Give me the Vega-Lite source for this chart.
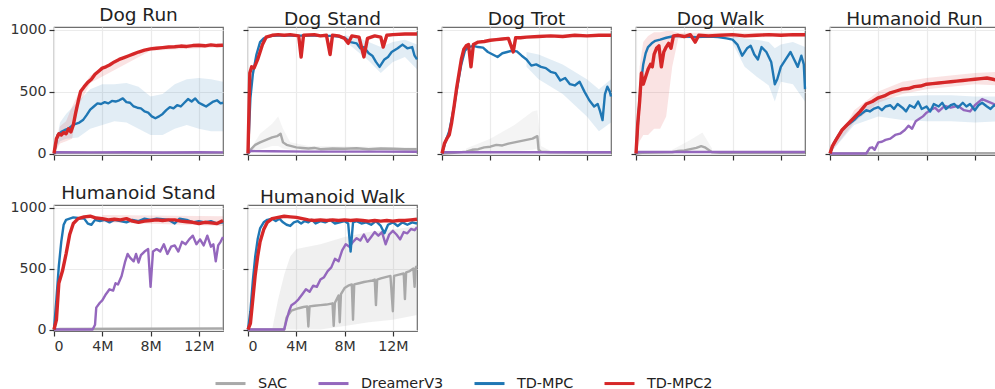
{
"$schema": "https://vega.github.io/schema/vega-lite/v6.json",
"padding": {"left": 9, "top": 5, "right": 0, "bottom": 0},
"background": "white",
"columns": 5,
"spacing": {"row": 50, "column": 25},
"bounds": "flush",
"config": {
  "font": "DejaVu Sans",
  "view": {"stroke": "#6e6e6e", "strokeWidth": 1.2},
  "axis": {"grid": true, "gridColor": "#ebebeb", "gridWidth": 1.2, "domain": false, "tickColor": "#333", "tickSize": 5, "tickWidth": 1.2, "labelFontSize": 14.2, "labelColor": "#333", "labelPadding": 3, "labelFont": "DejaVu Sans"},
  "title": {"fontSize": 18.5, "fontWeight": "normal", "color": "#222", "offset": -1.4, "anchor": "middle", "font": "DejaVu Sans"},
  "line": {"strokeJoin": "round", "clip": true},
  "area": {"clip": true, "opacity": 0.13}
},
"datasets": {
"L": [
{"t":"DR","m":"SAC","x":0,"y":0},{"t":"DR","m":"SAC","x":0.3,"y":8},{"t":"DR","m":"SAC","x":2,"y":6},{"t":"DR","m":"SAC","x":5,"y":5},{"t":"DR","m":"SAC","x":8,"y":6},{"t":"DR","m":"SAC","x":11,"y":5},{"t":"DR","m":"SAC","x":14,"y":5},
{"t":"DR","m":"DreamerV3","x":0,"y":0},{"t":"DR","m":"DreamerV3","x":0.2,"y":10},{"t":"DR","m":"DreamerV3","x":3,"y":9},{"t":"DR","m":"DreamerV3","x":6,"y":10},{"t":"DR","m":"DreamerV3","x":9,"y":8},{"t":"DR","m":"DreamerV3","x":12,"y":10},{"t":"DR","m":"DreamerV3","x":14,"y":9},
{"t":"DR","m":"TD-MPC","x":0,"y":0},{"t":"DR","m":"TD-MPC","x":0.3,"y":150},{"t":"DR","m":"TD-MPC","x":0.6,"y":175},{"t":"DR","m":"TD-MPC","x":0.9,"y":190},{"t":"DR","m":"TD-MPC","x":1.2,"y":200},{"t":"DR","m":"TD-MPC","x":1.5,"y":225},{"t":"DR","m":"TD-MPC","x":1.8,"y":240},{"t":"DR","m":"TD-MPC","x":2.1,"y":250},{"t":"DR","m":"TD-MPC","x":2.4,"y":270},{"t":"DR","m":"TD-MPC","x":2.7,"y":310},{"t":"DR","m":"TD-MPC","x":3.0,"y":355},{"t":"DR","m":"TD-MPC","x":3.3,"y":380},{"t":"DR","m":"TD-MPC","x":3.6,"y":405},{"t":"DR","m":"TD-MPC","x":3.9,"y":400},{"t":"DR","m":"TD-MPC","x":4.2,"y":415},{"t":"DR","m":"TD-MPC","x":4.5,"y":405},{"t":"DR","m":"TD-MPC","x":4.8,"y":425},{"t":"DR","m":"TD-MPC","x":5.1,"y":420},{"t":"DR","m":"TD-MPC","x":5.4,"y":430},{"t":"DR","m":"TD-MPC","x":5.7,"y":445},{"t":"DR","m":"TD-MPC","x":6.0,"y":415},{"t":"DR","m":"TD-MPC","x":6.3,"y":410},{"t":"DR","m":"TD-MPC","x":6.6,"y":380},{"t":"DR","m":"TD-MPC","x":6.9,"y":370},{"t":"DR","m":"TD-MPC","x":7.2,"y":365},{"t":"DR","m":"TD-MPC","x":7.5,"y":340},{"t":"DR","m":"TD-MPC","x":7.8,"y":330},{"t":"DR","m":"TD-MPC","x":8.1,"y":300},{"t":"DR","m":"TD-MPC","x":8.4,"y":285},{"t":"DR","m":"TD-MPC","x":8.7,"y":300},{"t":"DR","m":"TD-MPC","x":9.0,"y":320},{"t":"DR","m":"TD-MPC","x":9.3,"y":350},{"t":"DR","m":"TD-MPC","x":9.6,"y":375},{"t":"DR","m":"TD-MPC","x":9.9,"y":365},{"t":"DR","m":"TD-MPC","x":10.2,"y":390},{"t":"DR","m":"TD-MPC","x":10.5,"y":380},{"t":"DR","m":"TD-MPC","x":10.8,"y":410},{"t":"DR","m":"TD-MPC","x":11.1,"y":440},{"t":"DR","m":"TD-MPC","x":11.4,"y":420},{"t":"DR","m":"TD-MPC","x":11.7,"y":445},{"t":"DR","m":"TD-MPC","x":12.0,"y":410},{"t":"DR","m":"TD-MPC","x":12.3,"y":395},{"t":"DR","m":"TD-MPC","x":12.6,"y":380},{"t":"DR","m":"TD-MPC","x":12.9,"y":400},{"t":"DR","m":"TD-MPC","x":13.2,"y":420},{"t":"DR","m":"TD-MPC","x":13.5,"y":430},{"t":"DR","m":"TD-MPC","x":13.8,"y":405},{"t":"DR","m":"TD-MPC","x":14,"y":410},
{"t":"DR","m":"TD-MPC2","x":0,"y":0},{"t":"DR","m":"TD-MPC2","x":0.2,"y":120},{"t":"DR","m":"TD-MPC2","x":0.4,"y":160},{"t":"DR","m":"TD-MPC2","x":0.6,"y":150},{"t":"DR","m":"TD-MPC2","x":0.8,"y":170},{"t":"DR","m":"TD-MPC2","x":1.0,"y":160},{"t":"DR","m":"TD-MPC2","x":1.2,"y":200},{"t":"DR","m":"TD-MPC2","x":1.4,"y":175},{"t":"DR","m":"TD-MPC2","x":1.6,"y":230},{"t":"DR","m":"TD-MPC2","x":1.8,"y":330},{"t":"DR","m":"TD-MPC2","x":2.0,"y":420},{"t":"DR","m":"TD-MPC2","x":2.2,"y":500},{"t":"DR","m":"TD-MPC2","x":2.5,"y":540},{"t":"DR","m":"TD-MPC2","x":2.8,"y":575},{"t":"DR","m":"TD-MPC2","x":3.1,"y":600},{"t":"DR","m":"TD-MPC2","x":3.4,"y":640},{"t":"DR","m":"TD-MPC2","x":3.7,"y":665},{"t":"DR","m":"TD-MPC2","x":4.0,"y":690},{"t":"DR","m":"TD-MPC2","x":4.3,"y":700},{"t":"DR","m":"TD-MPC2","x":4.6,"y":715},{"t":"DR","m":"TD-MPC2","x":5.0,"y":740},{"t":"DR","m":"TD-MPC2","x":5.4,"y":760},{"t":"DR","m":"TD-MPC2","x":5.8,"y":775},{"t":"DR","m":"TD-MPC2","x":6.2,"y":790},{"t":"DR","m":"TD-MPC2","x":6.6,"y":805},{"t":"DR","m":"TD-MPC2","x":7.0,"y":820},{"t":"DR","m":"TD-MPC2","x":7.5,"y":835},{"t":"DR","m":"TD-MPC2","x":8.0,"y":845},{"t":"DR","m":"TD-MPC2","x":8.5,"y":850},{"t":"DR","m":"TD-MPC2","x":9.0,"y":855},{"t":"DR","m":"TD-MPC2","x":9.5,"y":860},{"t":"DR","m":"TD-MPC2","x":10.0,"y":862},{"t":"DR","m":"TD-MPC2","x":10.5,"y":868},{"t":"DR","m":"TD-MPC2","x":11.0,"y":865},{"t":"DR","m":"TD-MPC2","x":11.5,"y":872},{"t":"DR","m":"TD-MPC2","x":12.0,"y":875},{"t":"DR","m":"TD-MPC2","x":12.5,"y":870},{"t":"DR","m":"TD-MPC2","x":13.0,"y":878},{"t":"DR","m":"TD-MPC2","x":13.5,"y":872},{"t":"DR","m":"TD-MPC2","x":14,"y":875},

{"t":"DS","m":"SAC","x":0,"y":0},{"t":"DS","m":"SAC","x":0.3,"y":40},{"t":"DS","m":"SAC","x":0.6,"y":70},{"t":"DS","m":"SAC","x":1.0,"y":90},{"t":"DS","m":"SAC","x":1.5,"y":110},{"t":"DS","m":"SAC","x":2.0,"y":130},{"t":"DS","m":"SAC","x":2.4,"y":140},{"t":"DS","m":"SAC","x":2.7,"y":160},{"t":"DS","m":"SAC","x":2.9,"y":90},{"t":"DS","m":"SAC","x":3.2,"y":70},{"t":"DS","m":"SAC","x":3.6,"y":60},{"t":"DS","m":"SAC","x":4,"y":50},{"t":"DS","m":"SAC","x":4.5,"y":45},{"t":"DS","m":"SAC","x":5,"y":40},{"t":"DS","m":"SAC","x":5.5,"y":45},{"t":"DS","m":"SAC","x":6,"y":35},{"t":"DS","m":"SAC","x":7,"y":40},{"t":"DS","m":"SAC","x":8,"y":38},{"t":"DS","m":"SAC","x":9,"y":42},{"t":"DS","m":"SAC","x":10,"y":35},{"t":"DS","m":"SAC","x":11,"y":40},{"t":"DS","m":"SAC","x":12,"y":38},{"t":"DS","m":"SAC","x":13,"y":35},{"t":"DS","m":"SAC","x":14,"y":35},
{"t":"DS","m":"DreamerV3","x":0,"y":0},{"t":"DS","m":"DreamerV3","x":0.2,"y":20},{"t":"DS","m":"DreamerV3","x":2,"y":18},{"t":"DS","m":"DreamerV3","x":5,"y":15},{"t":"DS","m":"DreamerV3","x":8,"y":15},{"t":"DS","m":"DreamerV3","x":11,"y":15},{"t":"DS","m":"DreamerV3","x":14,"y":14},
{"t":"DS","m":"TD-MPC","x":0,"y":0},{"t":"DS","m":"TD-MPC","x":0.2,"y":450},{"t":"DS","m":"TD-MPC","x":0.4,"y":640},{"t":"DS","m":"TD-MPC","x":0.7,"y":800},{"t":"DS","m":"TD-MPC","x":1.0,"y":900},{"t":"DS","m":"TD-MPC","x":1.3,"y":930},{"t":"DS","m":"TD-MPC","x":1.7,"y":945},{"t":"DS","m":"TD-MPC","x":2,"y":950},{"t":"DS","m":"TD-MPC","x":3,"y":955},{"t":"DS","m":"TD-MPC","x":4,"y":950},{"t":"DS","m":"TD-MPC","x":5,"y":955},{"t":"DS","m":"TD-MPC","x":6,"y":950},{"t":"DS","m":"TD-MPC","x":7,"y":950},{"t":"DS","m":"TD-MPC","x":7.5,"y":945},{"t":"DS","m":"TD-MPC","x":8,"y":935},{"t":"DS","m":"TD-MPC","x":8.5,"y":900},{"t":"DS","m":"TD-MPC","x":9,"y":890},{"t":"DS","m":"TD-MPC","x":9.3,"y":850},{"t":"DS","m":"TD-MPC","x":9.6,"y":860},{"t":"DS","m":"TD-MPC","x":10,"y":810},{"t":"DS","m":"TD-MPC","x":10.3,"y":790},{"t":"DS","m":"TD-MPC","x":10.6,"y":740},{"t":"DS","m":"TD-MPC","x":10.9,"y":700},{"t":"DS","m":"TD-MPC","x":11.3,"y":760},{"t":"DS","m":"TD-MPC","x":11.6,"y":780},{"t":"DS","m":"TD-MPC","x":11.9,"y":820},{"t":"DS","m":"TD-MPC","x":12.4,"y":850},{"t":"DS","m":"TD-MPC","x":12.8,"y":880},{"t":"DS","m":"TD-MPC","x":13.2,"y":850},{"t":"DS","m":"TD-MPC","x":13.6,"y":860},{"t":"DS","m":"TD-MPC","x":13.8,"y":790},{"t":"DS","m":"TD-MPC","x":14,"y":760},
{"t":"DS","m":"TD-MPC2","x":0,"y":0},{"t":"DS","m":"TD-MPC2","x":0.15,"y":650},{"t":"DS","m":"TD-MPC2","x":0.3,"y":700},{"t":"DS","m":"TD-MPC2","x":0.5,"y":690},{"t":"DS","m":"TD-MPC2","x":0.8,"y":760},{"t":"DS","m":"TD-MPC2","x":1.0,"y":820},{"t":"DS","m":"TD-MPC2","x":1.2,"y":880},{"t":"DS","m":"TD-MPC2","x":1.5,"y":940},{"t":"DS","m":"TD-MPC2","x":2,"y":955},{"t":"DS","m":"TD-MPC2","x":2.5,"y":960},{"t":"DS","m":"TD-MPC2","x":3,"y":955},{"t":"DS","m":"TD-MPC2","x":3.5,"y":960},{"t":"DS","m":"TD-MPC2","x":4.2,"y":950},{"t":"DS","m":"TD-MPC2","x":4.4,"y":780},{"t":"DS","m":"TD-MPC2","x":4.6,"y":955},{"t":"DS","m":"TD-MPC2","x":5.5,"y":960},{"t":"DS","m":"TD-MPC2","x":6,"y":950},{"t":"DS","m":"TD-MPC2","x":6.5,"y":955},{"t":"DS","m":"TD-MPC2","x":6.8,"y":800},{"t":"DS","m":"TD-MPC2","x":7.0,"y":955},{"t":"DS","m":"TD-MPC2","x":7.5,"y":950},{"t":"DS","m":"TD-MPC2","x":8,"y":930},{"t":"DS","m":"TD-MPC2","x":8.3,"y":890},{"t":"DS","m":"TD-MPC2","x":8.6,"y":950},{"t":"DS","m":"TD-MPC2","x":9.2,"y":940},{"t":"DS","m":"TD-MPC2","x":9.6,"y":780},{"t":"DS","m":"TD-MPC2","x":9.9,"y":930},{"t":"DS","m":"TD-MPC2","x":10.5,"y":950},{"t":"DS","m":"TD-MPC2","x":11,"y":940},{"t":"DS","m":"TD-MPC2","x":11.2,"y":860},{"t":"DS","m":"TD-MPC2","x":11.5,"y":955},{"t":"DS","m":"TD-MPC2","x":12,"y":960},{"t":"DS","m":"TD-MPC2","x":13,"y":965},{"t":"DS","m":"TD-MPC2","x":14,"y":965},

{"t":"DT","m":"SAC","x":0,"y":0},{"t":"DT","m":"SAC","x":1,"y":5},{"t":"DT","m":"SAC","x":2,"y":15},{"t":"DT","m":"SAC","x":2.5,"y":30},{"t":"DT","m":"SAC","x":3,"y":35},{"t":"DT","m":"SAC","x":3.5,"y":50},{"t":"DT","m":"SAC","x":4,"y":55},{"t":"DT","m":"SAC","x":4.5,"y":70},{"t":"DT","m":"SAC","x":5,"y":65},{"t":"DT","m":"SAC","x":5.5,"y":80},{"t":"DT","m":"SAC","x":6,"y":90},{"t":"DT","m":"SAC","x":6.5,"y":100},{"t":"DT","m":"SAC","x":7,"y":110},{"t":"DT","m":"SAC","x":7.5,"y":120},{"t":"DT","m":"SAC","x":7.9,"y":140},{"t":"DT","m":"SAC","x":8.0,"y":30},{"t":"DT","m":"SAC","x":8.2,"y":15},{"t":"DT","m":"SAC","x":9,"y":10},{"t":"DT","m":"SAC","x":11,"y":8},{"t":"DT","m":"SAC","x":14,"y":8},
{"t":"DT","m":"DreamerV3","x":0,"y":0},{"t":"DT","m":"DreamerV3","x":0.2,"y":10},{"t":"DT","m":"DreamerV3","x":7,"y":10},{"t":"DT","m":"DreamerV3","x":14,"y":10},
{"t":"DT","m":"TD-MPC","x":0,"y":0},{"t":"DT","m":"TD-MPC","x":0.3,"y":100},{"t":"DT","m":"TD-MPC","x":0.6,"y":180},{"t":"DT","m":"TD-MPC","x":1.0,"y":380},{"t":"DT","m":"TD-MPC","x":1.3,"y":560},{"t":"DT","m":"TD-MPC","x":1.6,"y":720},{"t":"DT","m":"TD-MPC","x":1.9,"y":830},{"t":"DT","m":"TD-MPC","x":2.2,"y":860},{"t":"DT","m":"TD-MPC","x":2.6,"y":870},{"t":"DT","m":"TD-MPC","x":3.0,"y":860},{"t":"DT","m":"TD-MPC","x":3.4,"y":855},{"t":"DT","m":"TD-MPC","x":3.8,"y":820},{"t":"DT","m":"TD-MPC","x":4.2,"y":800},{"t":"DT","m":"TD-MPC","x":4.6,"y":780},{"t":"DT","m":"TD-MPC","x":5.0,"y":810},{"t":"DT","m":"TD-MPC","x":5.4,"y":820},{"t":"DT","m":"TD-MPC","x":5.8,"y":830},{"t":"DT","m":"TD-MPC","x":6.2,"y":825},{"t":"DT","m":"TD-MPC","x":6.6,"y":790},{"t":"DT","m":"TD-MPC","x":7.0,"y":760},{"t":"DT","m":"TD-MPC","x":7.4,"y":710},{"t":"DT","m":"TD-MPC","x":7.8,"y":720},{"t":"DT","m":"TD-MPC","x":8.2,"y":700},{"t":"DT","m":"TD-MPC","x":8.6,"y":690},{"t":"DT","m":"TD-MPC","x":9.0,"y":660},{"t":"DT","m":"TD-MPC","x":9.4,"y":650},{"t":"DT","m":"TD-MPC","x":9.8,"y":590},{"t":"DT","m":"TD-MPC","x":10.2,"y":610},{"t":"DT","m":"TD-MPC","x":10.6,"y":560},{"t":"DT","m":"TD-MPC","x":11.0,"y":550},{"t":"DT","m":"TD-MPC","x":11.4,"y":580},{"t":"DT","m":"TD-MPC","x":11.8,"y":500},{"t":"DT","m":"TD-MPC","x":12.2,"y":430},{"t":"DT","m":"TD-MPC","x":12.6,"y":380},{"t":"DT","m":"TD-MPC","x":12.9,"y":400},{"t":"DT","m":"TD-MPC","x":13.1,"y":340},{"t":"DT","m":"TD-MPC","x":13.3,"y":270},{"t":"DT","m":"TD-MPC","x":13.5,"y":480},{"t":"DT","m":"TD-MPC","x":13.7,"y":540},{"t":"DT","m":"TD-MPC","x":13.9,"y":500},{"t":"DT","m":"TD-MPC","x":14,"y":460},
{"t":"DT","m":"TD-MPC2","x":0,"y":0},{"t":"DT","m":"TD-MPC2","x":0.2,"y":80},{"t":"DT","m":"TD-MPC2","x":0.4,"y":120},{"t":"DT","m":"TD-MPC2","x":0.6,"y":150},{"t":"DT","m":"TD-MPC2","x":0.8,"y":250},{"t":"DT","m":"TD-MPC2","x":1.0,"y":380},{"t":"DT","m":"TD-MPC2","x":1.2,"y":520},{"t":"DT","m":"TD-MPC2","x":1.4,"y":640},{"t":"DT","m":"TD-MPC2","x":1.6,"y":760},{"t":"DT","m":"TD-MPC2","x":1.8,"y":840},{"t":"DT","m":"TD-MPC2","x":2.0,"y":870},{"t":"DT","m":"TD-MPC2","x":2.2,"y":880},{"t":"DT","m":"TD-MPC2","x":2.4,"y":700},{"t":"DT","m":"TD-MPC2","x":2.6,"y":880},{"t":"DT","m":"TD-MPC2","x":3.0,"y":900},{"t":"DT","m":"TD-MPC2","x":3.5,"y":905},{"t":"DT","m":"TD-MPC2","x":4.0,"y":915},{"t":"DT","m":"TD-MPC2","x":4.5,"y":920},{"t":"DT","m":"TD-MPC2","x":5.0,"y":925},{"t":"DT","m":"TD-MPC2","x":5.5,"y":930},{"t":"DT","m":"TD-MPC2","x":5.9,"y":820},{"t":"DT","m":"TD-MPC2","x":6.1,"y":935},{"t":"DT","m":"TD-MPC2","x":6.5,"y":935},{"t":"DT","m":"TD-MPC2","x":7,"y":940},{"t":"DT","m":"TD-MPC2","x":8,"y":945},{"t":"DT","m":"TD-MPC2","x":9,"y":950},{"t":"DT","m":"TD-MPC2","x":10,"y":945},{"t":"DT","m":"TD-MPC2","x":11,"y":955},{"t":"DT","m":"TD-MPC2","x":12,"y":950},{"t":"DT","m":"TD-MPC2","x":13,"y":955},{"t":"DT","m":"TD-MPC2","x":14,"y":955},

{"t":"DW","m":"SAC","x":0,"y":0},{"t":"DW","m":"SAC","x":0.5,"y":5},{"t":"DW","m":"SAC","x":3,"y":10},{"t":"DW","m":"SAC","x":3.5,"y":20},{"t":"DW","m":"SAC","x":4,"y":25},{"t":"DW","m":"SAC","x":4.5,"y":35},{"t":"DW","m":"SAC","x":5,"y":45},{"t":"DW","m":"SAC","x":5.4,"y":60},{"t":"DW","m":"SAC","x":5.7,"y":50},{"t":"DW","m":"SAC","x":6.0,"y":30},{"t":"DW","m":"SAC","x":6.3,"y":10},{"t":"DW","m":"SAC","x":7,"y":5},{"t":"DW","m":"SAC","x":14,"y":5},
{"t":"DW","m":"DreamerV3","x":0,"y":0},{"t":"DW","m":"DreamerV3","x":0.2,"y":12},{"t":"DW","m":"DreamerV3","x":7,"y":12},{"t":"DW","m":"DreamerV3","x":14,"y":12},
{"t":"DW","m":"TD-MPC","x":0,"y":0},{"t":"DW","m":"TD-MPC","x":0.2,"y":300},{"t":"DW","m":"TD-MPC","x":0.4,"y":560},{"t":"DW","m":"TD-MPC","x":0.6,"y":720},{"t":"DW","m":"TD-MPC","x":0.8,"y":810},{"t":"DW","m":"TD-MPC","x":1.0,"y":860},{"t":"DW","m":"TD-MPC","x":1.3,"y":890},{"t":"DW","m":"TD-MPC","x":1.6,"y":910},{"t":"DW","m":"TD-MPC","x":2.0,"y":920},{"t":"DW","m":"TD-MPC","x":2.5,"y":935},{"t":"DW","m":"TD-MPC","x":3.0,"y":945},{"t":"DW","m":"TD-MPC","x":3.5,"y":950},{"t":"DW","m":"TD-MPC","x":4,"y":945},{"t":"DW","m":"TD-MPC","x":5,"y":940},{"t":"DW","m":"TD-MPC","x":6,"y":945},{"t":"DW","m":"TD-MPC","x":6.8,"y":940},{"t":"DW","m":"TD-MPC","x":7.5,"y":930},{"t":"DW","m":"TD-MPC","x":8,"y":920},{"t":"DW","m":"TD-MPC","x":8.4,"y":880},{"t":"DW","m":"TD-MPC","x":8.8,"y":790},{"t":"DW","m":"TD-MPC","x":9.2,"y":850},{"t":"DW","m":"TD-MPC","x":9.5,"y":870},{"t":"DW","m":"TD-MPC","x":9.8,"y":800},{"t":"DW","m":"TD-MPC","x":10.1,"y":760},{"t":"DW","m":"TD-MPC","x":10.4,"y":860},{"t":"DW","m":"TD-MPC","x":10.8,"y":820},{"t":"DW","m":"TD-MPC","x":11.2,"y":740},{"t":"DW","m":"TD-MPC","x":11.5,"y":560},{"t":"DW","m":"TD-MPC","x":11.7,"y":600},{"t":"DW","m":"TD-MPC","x":12.0,"y":700},{"t":"DW","m":"TD-MPC","x":12.4,"y":760},{"t":"DW","m":"TD-MPC","x":12.8,"y":820},{"t":"DW","m":"TD-MPC","x":13.1,"y":760},{"t":"DW","m":"TD-MPC","x":13.4,"y":700},{"t":"DW","m":"TD-MPC","x":13.7,"y":790},{"t":"DW","m":"TD-MPC","x":13.9,"y":720},{"t":"DW","m":"TD-MPC","x":14,"y":520},
{"t":"DW","m":"TD-MPC2","x":0,"y":0},{"t":"DW","m":"TD-MPC2","x":0.15,"y":250},{"t":"DW","m":"TD-MPC2","x":0.3,"y":420},{"t":"DW","m":"TD-MPC2","x":0.45,"y":650},{"t":"DW","m":"TD-MPC2","x":0.6,"y":560},{"t":"DW","m":"TD-MPC2","x":0.8,"y":620},{"t":"DW","m":"TD-MPC2","x":1.0,"y":680},{"t":"DW","m":"TD-MPC2","x":1.2,"y":720},{"t":"DW","m":"TD-MPC2","x":1.35,"y":700},{"t":"DW","m":"TD-MPC2","x":1.5,"y":800},{"t":"DW","m":"TD-MPC2","x":1.7,"y":850},{"t":"DW","m":"TD-MPC2","x":1.9,"y":870},{"t":"DW","m":"TD-MPC2","x":2.1,"y":700},{"t":"DW","m":"TD-MPC2","x":2.3,"y":820},{"t":"DW","m":"TD-MPC2","x":2.5,"y":860},{"t":"DW","m":"TD-MPC2","x":2.7,"y":890},{"t":"DW","m":"TD-MPC2","x":2.9,"y":850},{"t":"DW","m":"TD-MPC2","x":3.1,"y":950},{"t":"DW","m":"TD-MPC2","x":3.5,"y":955},{"t":"DW","m":"TD-MPC2","x":4,"y":945},{"t":"DW","m":"TD-MPC2","x":4.5,"y":960},{"t":"DW","m":"TD-MPC2","x":4.9,"y":900},{"t":"DW","m":"TD-MPC2","x":5.2,"y":955},{"t":"DW","m":"TD-MPC2","x":6,"y":950},{"t":"DW","m":"TD-MPC2","x":7,"y":955},{"t":"DW","m":"TD-MPC2","x":8,"y":960},{"t":"DW","m":"TD-MPC2","x":9,"y":950},{"t":"DW","m":"TD-MPC2","x":10,"y":955},{"t":"DW","m":"TD-MPC2","x":11,"y":960},{"t":"DW","m":"TD-MPC2","x":12,"y":955},{"t":"DW","m":"TD-MPC2","x":13,"y":960},{"t":"DW","m":"TD-MPC2","x":14,"y":960},

{"t":"HR","m":"SAC","x":0,"y":0},{"t":"HR","m":"SAC","x":7,"y":2},{"t":"HR","m":"SAC","x":14,"y":2},
{"t":"HR","m":"DreamerV3","x":0,"y":0},{"t":"HR","m":"DreamerV3","x":3.0,"y":0},{"t":"HR","m":"DreamerV3","x":3.3,"y":45},{"t":"HR","m":"DreamerV3","x":3.5,"y":50},{"t":"HR","m":"DreamerV3","x":3.7,"y":30},{"t":"HR","m":"DreamerV3","x":4.0,"y":90},{"t":"HR","m":"DreamerV3","x":4.3,"y":95},{"t":"HR","m":"DreamerV3","x":4.6,"y":110},{"t":"HR","m":"DreamerV3","x":5.0,"y":120},{"t":"HR","m":"DreamerV3","x":5.4,"y":150},{"t":"HR","m":"DreamerV3","x":5.8,"y":160},{"t":"HR","m":"DreamerV3","x":6.2,"y":190},{"t":"HR","m":"DreamerV3","x":6.5,"y":225},{"t":"HR","m":"DreamerV3","x":6.8,"y":200},{"t":"HR","m":"DreamerV3","x":7.1,"y":260},{"t":"HR","m":"DreamerV3","x":7.4,"y":280},{"t":"HR","m":"DreamerV3","x":7.7,"y":300},{"t":"HR","m":"DreamerV3","x":8.0,"y":330},{"t":"HR","m":"DreamerV3","x":8.3,"y":350},{"t":"HR","m":"DreamerV3","x":8.7,"y":370},{"t":"HR","m":"DreamerV3","x":9.0,"y":340},{"t":"HR","m":"DreamerV3","x":9.5,"y":385},{"t":"HR","m":"DreamerV3","x":10.0,"y":370},{"t":"HR","m":"DreamerV3","x":10.6,"y":385},{"t":"HR","m":"DreamerV3","x":11.1,"y":350},{"t":"HR","m":"DreamerV3","x":11.6,"y":340},{"t":"HR","m":"DreamerV3","x":12.0,"y":390},{"t":"HR","m":"DreamerV3","x":12.6,"y":440},{"t":"HR","m":"DreamerV3","x":13.1,"y":420},{"t":"HR","m":"DreamerV3","x":13.7,"y":395},{"t":"HR","m":"DreamerV3","x":14,"y":400},
{"t":"HR","m":"TD-MPC","x":0,"y":0},{"t":"HR","m":"TD-MPC","x":0.3,"y":80},{"t":"HR","m":"TD-MPC","x":0.6,"y":130},{"t":"HR","m":"TD-MPC","x":1.0,"y":190},{"t":"HR","m":"TD-MPC","x":1.3,"y":220},{"t":"HR","m":"TD-MPC","x":1.6,"y":240},{"t":"HR","m":"TD-MPC","x":2.0,"y":270},{"t":"HR","m":"TD-MPC","x":2.3,"y":300},{"t":"HR","m":"TD-MPC","x":2.6,"y":320},{"t":"HR","m":"TD-MPC","x":3.0,"y":350},{"t":"HR","m":"TD-MPC","x":3.3,"y":340},{"t":"HR","m":"TD-MPC","x":3.6,"y":360},{"t":"HR","m":"TD-MPC","x":4.0,"y":375},{"t":"HR","m":"TD-MPC","x":4.3,"y":350},{"t":"HR","m":"TD-MPC","x":4.6,"y":380},{"t":"HR","m":"TD-MPC","x":5.0,"y":390},{"t":"HR","m":"TD-MPC","x":5.3,"y":360},{"t":"HR","m":"TD-MPC","x":5.6,"y":400},{"t":"HR","m":"TD-MPC","x":6.0,"y":370},{"t":"HR","m":"TD-MPC","x":6.3,"y":340},{"t":"HR","m":"TD-MPC","x":6.6,"y":390},{"t":"HR","m":"TD-MPC","x":7.0,"y":370},{"t":"HR","m":"TD-MPC","x":7.3,"y":420},{"t":"HR","m":"TD-MPC","x":7.6,"y":360},{"t":"HR","m":"TD-MPC","x":8.0,"y":380},{"t":"HR","m":"TD-MPC","x":8.3,"y":340},{"t":"HR","m":"TD-MPC","x":8.6,"y":400},{"t":"HR","m":"TD-MPC","x":9.0,"y":380},{"t":"HR","m":"TD-MPC","x":9.3,"y":410},{"t":"HR","m":"TD-MPC","x":9.6,"y":360},{"t":"HR","m":"TD-MPC","x":10.0,"y":390},{"t":"HR","m":"TD-MPC","x":10.3,"y":400},{"t":"HR","m":"TD-MPC","x":10.6,"y":370},{"t":"HR","m":"TD-MPC","x":11.0,"y":410},{"t":"HR","m":"TD-MPC","x":11.3,"y":380},{"t":"HR","m":"TD-MPC","x":11.6,"y":400},{"t":"HR","m":"TD-MPC","x":12.0,"y":350},{"t":"HR","m":"TD-MPC","x":12.3,"y":390},{"t":"HR","m":"TD-MPC","x":12.6,"y":410},{"t":"HR","m":"TD-MPC","x":13.0,"y":380},{"t":"HR","m":"TD-MPC","x":13.3,"y":360},{"t":"HR","m":"TD-MPC","x":13.6,"y":390},{"t":"HR","m":"TD-MPC","x":14,"y":370},
{"t":"HR","m":"TD-MPC2","x":0,"y":0},{"t":"HR","m":"TD-MPC2","x":0.2,"y":60},{"t":"HR","m":"TD-MPC2","x":0.5,"y":110},{"t":"HR","m":"TD-MPC2","x":1.0,"y":190},{"t":"HR","m":"TD-MPC2","x":1.5,"y":240},{"t":"HR","m":"TD-MPC2","x":2.0,"y":290},{"t":"HR","m":"TD-MPC2","x":2.5,"y":340},{"t":"HR","m":"TD-MPC2","x":3.0,"y":400},{"t":"HR","m":"TD-MPC2","x":3.5,"y":420},{"t":"HR","m":"TD-MPC2","x":4.0,"y":450},{"t":"HR","m":"TD-MPC2","x":4.5,"y":465},{"t":"HR","m":"TD-MPC2","x":5.0,"y":490},{"t":"HR","m":"TD-MPC2","x":5.5,"y":505},{"t":"HR","m":"TD-MPC2","x":6.0,"y":520},{"t":"HR","m":"TD-MPC2","x":6.5,"y":525},{"t":"HR","m":"TD-MPC2","x":7.0,"y":540},{"t":"HR","m":"TD-MPC2","x":7.5,"y":545},{"t":"HR","m":"TD-MPC2","x":8.0,"y":560},{"t":"HR","m":"TD-MPC2","x":8.5,"y":565},{"t":"HR","m":"TD-MPC2","x":9.0,"y":570},{"t":"HR","m":"TD-MPC2","x":9.5,"y":575},{"t":"HR","m":"TD-MPC2","x":10.0,"y":580},{"t":"HR","m":"TD-MPC2","x":10.5,"y":585},{"t":"HR","m":"TD-MPC2","x":11.0,"y":590},{"t":"HR","m":"TD-MPC2","x":11.5,"y":595},{"t":"HR","m":"TD-MPC2","x":12.0,"y":600},{"t":"HR","m":"TD-MPC2","x":12.5,"y":605},{"t":"HR","m":"TD-MPC2","x":13.0,"y":610},{"t":"HR","m":"TD-MPC2","x":13.5,"y":600},{"t":"HR","m":"TD-MPC2","x":14,"y":590},

{"t":"HS","m":"SAC","x":0,"y":0},{"t":"HS","m":"SAC","x":0.5,"y":5},{"t":"HS","m":"SAC","x":7,"y":7},{"t":"HS","m":"SAC","x":14,"y":8},
{"t":"HS","m":"DreamerV3","x":0,"y":0},{"t":"HS","m":"DreamerV3","x":3.2,"y":0},{"t":"HS","m":"DreamerV3","x":3.4,"y":40},{"t":"HS","m":"DreamerV3","x":3.5,"y":180},{"t":"HS","m":"DreamerV3","x":3.8,"y":220},{"t":"HS","m":"DreamerV3","x":4.0,"y":240},{"t":"HS","m":"DreamerV3","x":4.3,"y":290},{"t":"HS","m":"DreamerV3","x":4.6,"y":330},{"t":"HS","m":"DreamerV3","x":4.9,"y":320},{"t":"HS","m":"DreamerV3","x":5.1,"y":380},{"t":"HS","m":"DreamerV3","x":5.3,"y":370},{"t":"HS","m":"DreamerV3","x":5.6,"y":440},{"t":"HS","m":"DreamerV3","x":5.9,"y":560},{"t":"HS","m":"DreamerV3","x":6.1,"y":620},{"t":"HS","m":"DreamerV3","x":6.3,"y":590},{"t":"HS","m":"DreamerV3","x":6.6,"y":560},{"t":"HS","m":"DreamerV3","x":6.8,"y":620},{"t":"HS","m":"DreamerV3","x":7.0,"y":550},{"t":"HS","m":"DreamerV3","x":7.2,"y":610},{"t":"HS","m":"DreamerV3","x":7.5,"y":640},{"t":"HS","m":"DreamerV3","x":7.8,"y":660},{"t":"HS","m":"DreamerV3","x":8.0,"y":350},{"t":"HS","m":"DreamerV3","x":8.2,"y":640},{"t":"HS","m":"DreamerV3","x":8.5,"y":660},{"t":"HS","m":"DreamerV3","x":8.8,"y":640},{"t":"HS","m":"DreamerV3","x":9.1,"y":700},{"t":"HS","m":"DreamerV3","x":9.4,"y":620},{"t":"HS","m":"DreamerV3","x":9.7,"y":680},{"t":"HS","m":"DreamerV3","x":10.0,"y":690},{"t":"HS","m":"DreamerV3","x":10.3,"y":640},{"t":"HS","m":"DreamerV3","x":10.6,"y":720},{"t":"HS","m":"DreamerV3","x":10.9,"y":700},{"t":"HS","m":"DreamerV3","x":11.2,"y":740},{"t":"HS","m":"DreamerV3","x":11.5,"y":770},{"t":"HS","m":"DreamerV3","x":11.8,"y":700},{"t":"HS","m":"DreamerV3","x":12.1,"y":740},{"t":"HS","m":"DreamerV3","x":12.4,"y":690},{"t":"HS","m":"DreamerV3","x":12.7,"y":770},{"t":"HS","m":"DreamerV3","x":13.0,"y":680},{"t":"HS","m":"DreamerV3","x":13.2,"y":700},{"t":"HS","m":"DreamerV3","x":13.4,"y":560},{"t":"HS","m":"DreamerV3","x":13.6,"y":690},{"t":"HS","m":"DreamerV3","x":13.8,"y":720},{"t":"HS","m":"DreamerV3","x":14,"y":760},
{"t":"HS","m":"TD-MPC","x":0,"y":0},{"t":"HS","m":"TD-MPC","x":0.2,"y":250},{"t":"HS","m":"TD-MPC","x":0.4,"y":520},{"t":"HS","m":"TD-MPC","x":0.6,"y":720},{"t":"HS","m":"TD-MPC","x":0.8,"y":860},{"t":"HS","m":"TD-MPC","x":1.0,"y":900},{"t":"HS","m":"TD-MPC","x":1.3,"y":910},{"t":"HS","m":"TD-MPC","x":1.6,"y":920},{"t":"HS","m":"TD-MPC","x":2.0,"y":915},{"t":"HS","m":"TD-MPC","x":2.5,"y":910},{"t":"HS","m":"TD-MPC","x":2.8,"y":870},{"t":"HS","m":"TD-MPC","x":3.1,"y":860},{"t":"HS","m":"TD-MPC","x":3.4,"y":900},{"t":"HS","m":"TD-MPC","x":3.8,"y":890},{"t":"HS","m":"TD-MPC","x":4.2,"y":900},{"t":"HS","m":"TD-MPC","x":4.6,"y":880},{"t":"HS","m":"TD-MPC","x":5.0,"y":900},{"t":"HS","m":"TD-MPC","x":5.5,"y":890},{"t":"HS","m":"TD-MPC","x":6.0,"y":880},{"t":"HS","m":"TD-MPC","x":6.5,"y":900},{"t":"HS","m":"TD-MPC","x":7.0,"y":890},{"t":"HS","m":"TD-MPC","x":7.5,"y":910},{"t":"HS","m":"TD-MPC","x":8.0,"y":900},{"t":"HS","m":"TD-MPC","x":8.5,"y":910},{"t":"HS","m":"TD-MPC","x":9.0,"y":905},{"t":"HS","m":"TD-MPC","x":9.5,"y":900},{"t":"HS","m":"TD-MPC","x":10.0,"y":870},{"t":"HS","m":"TD-MPC","x":10.4,"y":910},{"t":"HS","m":"TD-MPC","x":11.0,"y":900},{"t":"HS","m":"TD-MPC","x":11.5,"y":880},{"t":"HS","m":"TD-MPC","x":12.0,"y":890},{"t":"HS","m":"TD-MPC","x":12.5,"y":880},{"t":"HS","m":"TD-MPC","x":13.0,"y":890},{"t":"HS","m":"TD-MPC","x":13.5,"y":870},{"t":"HS","m":"TD-MPC","x":14,"y":880},
{"t":"HS","m":"TD-MPC2","x":0,"y":0},{"t":"HS","m":"TD-MPC2","x":0.2,"y":80},{"t":"HS","m":"TD-MPC2","x":0.4,"y":380},{"t":"HS","m":"TD-MPC2","x":0.7,"y":480},{"t":"HS","m":"TD-MPC2","x":1.0,"y":620},{"t":"HS","m":"TD-MPC2","x":1.3,"y":780},{"t":"HS","m":"TD-MPC2","x":1.6,"y":870},{"t":"HS","m":"TD-MPC2","x":2.0,"y":910},{"t":"HS","m":"TD-MPC2","x":2.5,"y":925},{"t":"HS","m":"TD-MPC2","x":3.0,"y":930},{"t":"HS","m":"TD-MPC2","x":3.5,"y":915},{"t":"HS","m":"TD-MPC2","x":4.0,"y":910},{"t":"HS","m":"TD-MPC2","x":4.5,"y":900},{"t":"HS","m":"TD-MPC2","x":5.0,"y":905},{"t":"HS","m":"TD-MPC2","x":5.5,"y":900},{"t":"HS","m":"TD-MPC2","x":6.0,"y":910},{"t":"HS","m":"TD-MPC2","x":6.5,"y":890},{"t":"HS","m":"TD-MPC2","x":7.0,"y":880},{"t":"HS","m":"TD-MPC2","x":7.5,"y":890},{"t":"HS","m":"TD-MPC2","x":8.0,"y":895},{"t":"HS","m":"TD-MPC2","x":8.5,"y":900},{"t":"HS","m":"TD-MPC2","x":9.0,"y":895},{"t":"HS","m":"TD-MPC2","x":9.5,"y":900},{"t":"HS","m":"TD-MPC2","x":10.0,"y":900},{"t":"HS","m":"TD-MPC2","x":10.5,"y":890},{"t":"HS","m":"TD-MPC2","x":11.0,"y":885},{"t":"HS","m":"TD-MPC2","x":11.5,"y":880},{"t":"HS","m":"TD-MPC2","x":12.0,"y":870},{"t":"HS","m":"TD-MPC2","x":12.5,"y":880},{"t":"HS","m":"TD-MPC2","x":13.0,"y":875},{"t":"HS","m":"TD-MPC2","x":13.5,"y":870},{"t":"HS","m":"TD-MPC2","x":14,"y":895},

{"t":"HW","m":"SAC","x":0,"y":0},{"t":"HW","m":"SAC","x":3.0,"y":0},{"t":"HW","m":"SAC","x":3.2,"y":100},{"t":"HW","m":"SAC","x":3.6,"y":155},{"t":"HW","m":"SAC","x":4.2,"y":175},{"t":"HW","m":"SAC","x":4.6,"y":185},{"t":"HW","m":"SAC","x":4.9,"y":190},{"t":"HW","m":"SAC","x":5.0,"y":25},{"t":"HW","m":"SAC","x":5.1,"y":190},{"t":"HW","m":"SAC","x":5.5,"y":195},{"t":"HW","m":"SAC","x":6.0,"y":200},{"t":"HW","m":"SAC","x":6.5,"y":205},{"t":"HW","m":"SAC","x":7.0,"y":215},{"t":"HW","m":"SAC","x":7.1,"y":30},{"t":"HW","m":"SAC","x":7.2,"y":220},{"t":"HW","m":"SAC","x":7.5,"y":280},{"t":"HW","m":"SAC","x":7.6,"y":60},{"t":"HW","m":"SAC","x":7.7,"y":290},{"t":"HW","m":"SAC","x":8.0,"y":340},{"t":"HW","m":"SAC","x":8.3,"y":360},{"t":"HW","m":"SAC","x":8.6,"y":370},{"t":"HW","m":"SAC","x":8.7,"y":80},{"t":"HW","m":"SAC","x":8.8,"y":370},{"t":"HW","m":"SAC","x":9.2,"y":380},{"t":"HW","m":"SAC","x":9.6,"y":390},{"t":"HW","m":"SAC","x":9.9,"y":395},{"t":"HW","m":"SAC","x":10.2,"y":400},{"t":"HW","m":"SAC","x":10.5,"y":410},{"t":"HW","m":"SAC","x":10.6,"y":200},{"t":"HW","m":"SAC","x":10.7,"y":410},{"t":"HW","m":"SAC","x":11.0,"y":420},{"t":"HW","m":"SAC","x":11.4,"y":430},{"t":"HW","m":"SAC","x":11.8,"y":440},{"t":"HW","m":"SAC","x":12.0,"y":150},{"t":"HW","m":"SAC","x":12.1,"y":440},{"t":"HW","m":"SAC","x":12.5,"y":450},{"t":"HW","m":"SAC","x":12.9,"y":460},{"t":"HW","m":"SAC","x":13.0,"y":250},{"t":"HW","m":"SAC","x":13.1,"y":470},{"t":"HW","m":"SAC","x":13.4,"y":480},{"t":"HW","m":"SAC","x":13.7,"y":500},{"t":"HW","m":"SAC","x":13.8,"y":350},{"t":"HW","m":"SAC","x":13.9,"y":510},{"t":"HW","m":"SAC","x":14,"y":520},
{"t":"HW","m":"DreamerV3","x":0,"y":0},{"t":"HW","m":"DreamerV3","x":3.0,"y":0},{"t":"HW","m":"DreamerV3","x":3.2,"y":80},{"t":"HW","m":"DreamerV3","x":3.4,"y":150},{"t":"HW","m":"DreamerV3","x":3.6,"y":200},{"t":"HW","m":"DreamerV3","x":3.9,"y":220},{"t":"HW","m":"DreamerV3","x":4.2,"y":250},{"t":"HW","m":"DreamerV3","x":4.5,"y":290},{"t":"HW","m":"DreamerV3","x":4.8,"y":330},{"t":"HW","m":"DreamerV3","x":5.1,"y":310},{"t":"HW","m":"DreamerV3","x":5.4,"y":360},{"t":"HW","m":"DreamerV3","x":5.7,"y":350},{"t":"HW","m":"DreamerV3","x":6.0,"y":410},{"t":"HW","m":"DreamerV3","x":6.3,"y":430},{"t":"HW","m":"DreamerV3","x":6.6,"y":480},{"t":"HW","m":"DreamerV3","x":6.9,"y":510},{"t":"HW","m":"DreamerV3","x":7.2,"y":580},{"t":"HW","m":"DreamerV3","x":7.5,"y":560},{"t":"HW","m":"DreamerV3","x":7.8,"y":650},{"t":"HW","m":"DreamerV3","x":8.1,"y":700},{"t":"HW","m":"DreamerV3","x":8.4,"y":680},{"t":"HW","m":"DreamerV3","x":8.7,"y":720},{"t":"HW","m":"DreamerV3","x":9.0,"y":750},{"t":"HW","m":"DreamerV3","x":9.3,"y":730},{"t":"HW","m":"DreamerV3","x":9.6,"y":780},{"t":"HW","m":"DreamerV3","x":9.9,"y":720},{"t":"HW","m":"DreamerV3","x":10.2,"y":760},{"t":"HW","m":"DreamerV3","x":10.5,"y":800},{"t":"HW","m":"DreamerV3","x":10.8,"y":770},{"t":"HW","m":"DreamerV3","x":11.1,"y":800},{"t":"HW","m":"DreamerV3","x":11.4,"y":700},{"t":"HW","m":"DreamerV3","x":11.7,"y":780},{"t":"HW","m":"DreamerV3","x":12.0,"y":810},{"t":"HW","m":"DreamerV3","x":12.3,"y":780},{"t":"HW","m":"DreamerV3","x":12.6,"y":740},{"t":"HW","m":"DreamerV3","x":12.9,"y":800},{"t":"HW","m":"DreamerV3","x":13.2,"y":790},{"t":"HW","m":"DreamerV3","x":13.5,"y":825},{"t":"HW","m":"DreamerV3","x":13.8,"y":815},{"t":"HW","m":"DreamerV3","x":14,"y":840},
{"t":"HW","m":"TD-MPC","x":0,"y":0},{"t":"HW","m":"TD-MPC","x":0.2,"y":150},{"t":"HW","m":"TD-MPC","x":0.4,"y":400},{"t":"HW","m":"TD-MPC","x":0.6,"y":600},{"t":"HW","m":"TD-MPC","x":0.8,"y":740},{"t":"HW","m":"TD-MPC","x":1.0,"y":830},{"t":"HW","m":"TD-MPC","x":1.3,"y":880},{"t":"HW","m":"TD-MPC","x":1.6,"y":900},{"t":"HW","m":"TD-MPC","x":2.0,"y":910},{"t":"HW","m":"TD-MPC","x":2.3,"y":890},{"t":"HW","m":"TD-MPC","x":2.6,"y":910},{"t":"HW","m":"TD-MPC","x":2.9,"y":880},{"t":"HW","m":"TD-MPC","x":3.2,"y":860},{"t":"HW","m":"TD-MPC","x":3.5,"y":850},{"t":"HW","m":"TD-MPC","x":3.8,"y":880},{"t":"HW","m":"TD-MPC","x":4.1,"y":890},{"t":"HW","m":"TD-MPC","x":4.4,"y":870},{"t":"HW","m":"TD-MPC","x":4.7,"y":890},{"t":"HW","m":"TD-MPC","x":5.0,"y":880},{"t":"HW","m":"TD-MPC","x":5.3,"y":900},{"t":"HW","m":"TD-MPC","x":5.6,"y":870},{"t":"HW","m":"TD-MPC","x":6.0,"y":890},{"t":"HW","m":"TD-MPC","x":6.4,"y":880},{"t":"HW","m":"TD-MPC","x":6.8,"y":900},{"t":"HW","m":"TD-MPC","x":7.2,"y":870},{"t":"HW","m":"TD-MPC","x":7.6,"y":880},{"t":"HW","m":"TD-MPC","x":8.0,"y":890},{"t":"HW","m":"TD-MPC","x":8.3,"y":870},{"t":"HW","m":"TD-MPC","x":8.5,"y":640},{"t":"HW","m":"TD-MPC","x":8.7,"y":880},{"t":"HW","m":"TD-MPC","x":9.0,"y":890},{"t":"HW","m":"TD-MPC","x":9.4,"y":870},{"t":"HW","m":"TD-MPC","x":9.8,"y":880},{"t":"HW","m":"TD-MPC","x":10.2,"y":860},{"t":"HW","m":"TD-MPC","x":10.6,"y":890},{"t":"HW","m":"TD-MPC","x":11.0,"y":850},{"t":"HW","m":"TD-MPC","x":11.3,"y":790},{"t":"HW","m":"TD-MPC","x":11.6,"y":860},{"t":"HW","m":"TD-MPC","x":12.0,"y":880},{"t":"HW","m":"TD-MPC","x":12.4,"y":850},{"t":"HW","m":"TD-MPC","x":12.8,"y":880},{"t":"HW","m":"TD-MPC","x":13.2,"y":860},{"t":"HW","m":"TD-MPC","x":13.6,"y":880},{"t":"HW","m":"TD-MPC","x":14,"y":870},
{"t":"HW","m":"TD-MPC2","x":0,"y":0},{"t":"HW","m":"TD-MPC2","x":0.2,"y":50},{"t":"HW","m":"TD-MPC2","x":0.4,"y":250},{"t":"HW","m":"TD-MPC2","x":0.6,"y":450},{"t":"HW","m":"TD-MPC2","x":0.8,"y":600},{"t":"HW","m":"TD-MPC2","x":1.0,"y":720},{"t":"HW","m":"TD-MPC2","x":1.3,"y":820},{"t":"HW","m":"TD-MPC2","x":1.6,"y":880},{"t":"HW","m":"TD-MPC2","x":2.0,"y":910},{"t":"HW","m":"TD-MPC2","x":2.5,"y":920},{"t":"HW","m":"TD-MPC2","x":3.0,"y":930},{"t":"HW","m":"TD-MPC2","x":3.5,"y":925},{"t":"HW","m":"TD-MPC2","x":4.0,"y":920},{"t":"HW","m":"TD-MPC2","x":4.5,"y":910},{"t":"HW","m":"TD-MPC2","x":5.0,"y":900},{"t":"HW","m":"TD-MPC2","x":5.5,"y":895},{"t":"HW","m":"TD-MPC2","x":6.0,"y":900},{"t":"HW","m":"TD-MPC2","x":6.5,"y":895},{"t":"HW","m":"TD-MPC2","x":7.0,"y":900},{"t":"HW","m":"TD-MPC2","x":7.5,"y":895},{"t":"HW","m":"TD-MPC2","x":8.0,"y":900},{"t":"HW","m":"TD-MPC2","x":8.5,"y":895},{"t":"HW","m":"TD-MPC2","x":9.0,"y":900},{"t":"HW","m":"TD-MPC2","x":9.5,"y":895},{"t":"HW","m":"TD-MPC2","x":10.0,"y":890},{"t":"HW","m":"TD-MPC2","x":10.5,"y":895},{"t":"HW","m":"TD-MPC2","x":11.0,"y":890},{"t":"HW","m":"TD-MPC2","x":11.5,"y":895},{"t":"HW","m":"TD-MPC2","x":12.0,"y":890},{"t":"HW","m":"TD-MPC2","x":12.5,"y":895},{"t":"HW","m":"TD-MPC2","x":13.0,"y":895},{"t":"HW","m":"TD-MPC2","x":13.5,"y":900},{"t":"HW","m":"TD-MPC2","x":14,"y":905}
],
"B": [
{"t":"DR","m":"TD-MPC","x":0,"lo":0,"hi":0},{"t":"DR","m":"TD-MPC","x":0.5,"lo":100,"hi":250},{"t":"DR","m":"TD-MPC","x":1,"lo":120,"hi":320},{"t":"DR","m":"TD-MPC","x":2,"lo":130,"hi":420},{"t":"DR","m":"TD-MPC","x":3,"lo":200,"hi":520},{"t":"DR","m":"TD-MPC","x":4,"lo":230,"hi":560},{"t":"DR","m":"TD-MPC","x":5,"lo":260,"hi":560},{"t":"DR","m":"TD-MPC","x":6,"lo":250,"hi":570},{"t":"DR","m":"TD-MPC","x":7,"lo":200,"hi":540},{"t":"DR","m":"TD-MPC","x":8,"lo":150,"hi":460},{"t":"DR","m":"TD-MPC","x":9,"lo":150,"hi":480},{"t":"DR","m":"TD-MPC","x":10,"lo":200,"hi":560},{"t":"DR","m":"TD-MPC","x":11,"lo":230,"hi":600},{"t":"DR","m":"TD-MPC","x":12,"lo":200,"hi":610},{"t":"DR","m":"TD-MPC","x":13,"lo":180,"hi":600},{"t":"DR","m":"TD-MPC","x":14,"lo":180,"hi":580},
{"t":"DR","m":"TD-MPC2","x":0,"lo":0,"hi":0},{"t":"DR","m":"TD-MPC2","x":0.5,"lo":80,"hi":220},{"t":"DR","m":"TD-MPC2","x":1,"lo":100,"hi":260},{"t":"DR","m":"TD-MPC2","x":1.5,"lo":120,"hi":380},{"t":"DR","m":"TD-MPC2","x":2,"lo":380,"hi":480},{"t":"DR","m":"TD-MPC2","x":3,"lo":570,"hi":630},{"t":"DR","m":"TD-MPC2","x":8,"lo":830,"hi":865},{"t":"DR","m":"TD-MPC2","x":14,"lo":860,"hi":890},
{"t":"DS","m":"SAC","x":0,"lo":0,"hi":0},{"t":"DS","m":"SAC","x":0.5,"lo":10,"hi":80},{"t":"DS","m":"SAC","x":1,"lo":30,"hi":160},{"t":"DS","m":"SAC","x":2,"lo":60,"hi":240},{"t":"DS","m":"SAC","x":2.5,"lo":60,"hi":300},{"t":"DS","m":"SAC","x":2.9,"lo":40,"hi":200},{"t":"DS","m":"SAC","x":3.5,"lo":30,"hi":90},{"t":"DS","m":"SAC","x":5,"lo":20,"hi":60},{"t":"DS","m":"SAC","x":14,"lo":20,"hi":50},
{"t":"DS","m":"TD-MPC","x":8,"lo":910,"hi":955},{"t":"DS","m":"TD-MPC","x":9,"lo":830,"hi":940},{"t":"DS","m":"TD-MPC","x":10,"lo":750,"hi":900},{"t":"DS","m":"TD-MPC","x":11,"lo":650,"hi":860},{"t":"DS","m":"TD-MPC","x":12,"lo":740,"hi":900},{"t":"DS","m":"TD-MPC","x":13,"lo":780,"hi":920},{"t":"DS","m":"TD-MPC","x":14,"lo":680,"hi":880},
{"t":"DT","m":"SAC","x":2,"lo":0,"hi":40},{"t":"DT","m":"SAC","x":4,"lo":10,"hi":120},{"t":"DT","m":"SAC","x":6,"lo":20,"hi":230},{"t":"DT","m":"SAC","x":7.5,"lo":30,"hi":340},{"t":"DT","m":"SAC","x":7.9,"lo":40,"hi":350},{"t":"DT","m":"SAC","x":8.2,"lo":5,"hi":60},{"t":"DT","m":"SAC","x":9,"lo":0,"hi":20},
{"t":"DT","m":"TD-MPC","x":7,"lo":700,"hi":820},{"t":"DT","m":"TD-MPC","x":8,"lo":600,"hi":800},{"t":"DT","m":"TD-MPC","x":10,"lo":480,"hi":720},{"t":"DT","m":"TD-MPC","x":12,"lo":300,"hi":600},{"t":"DT","m":"TD-MPC","x":13,"lo":180,"hi":520},{"t":"DT","m":"TD-MPC","x":14,"lo":250,"hi":600},
{"t":"DW","m":"SAC","x":3,"lo":0,"hi":30},{"t":"DW","m":"SAC","x":4.5,"lo":10,"hi":110},{"t":"DW","m":"SAC","x":5.5,"lo":20,"hi":170},{"t":"DW","m":"SAC","x":6.3,"lo":0,"hi":40},
{"t":"DW","m":"TD-MPC2","x":0,"lo":0,"hi":0},{"t":"DW","m":"TD-MPC2","x":0.3,"lo":100,"hi":700},{"t":"DW","m":"TD-MPC2","x":0.6,"lo":150,"hi":900},{"t":"DW","m":"TD-MPC2","x":1,"lo":150,"hi":950},{"t":"DW","m":"TD-MPC2","x":1.5,"lo":200,"hi":980},{"t":"DW","m":"TD-MPC2","x":2,"lo":200,"hi":980},{"t":"DW","m":"TD-MPC2","x":2.5,"lo":300,"hi":990},{"t":"DW","m":"TD-MPC2","x":3,"lo":700,"hi":990},{"t":"DW","m":"TD-MPC2","x":3.5,"lo":930,"hi":975},{"t":"DW","m":"TD-MPC2","x":14,"lo":945,"hi":975},
{"t":"DW","m":"TD-MPC","x":8,"lo":890,"hi":950},{"t":"DW","m":"TD-MPC","x":9,"lo":700,"hi":930},{"t":"DW","m":"TD-MPC","x":10,"lo":620,"hi":920},{"t":"DW","m":"TD-MPC","x":11,"lo":550,"hi":900},{"t":"DW","m":"TD-MPC","x":11.5,"lo":420,"hi":850},{"t":"DW","m":"TD-MPC","x":12,"lo":580,"hi":880},{"t":"DW","m":"TD-MPC","x":13,"lo":560,"hi":900},{"t":"DW","m":"TD-MPC","x":14,"lo":420,"hi":860},
{"t":"HR","m":"TD-MPC","x":0,"lo":0,"hi":0},{"t":"HR","m":"TD-MPC","x":2,"lo":230,"hi":320},{"t":"HR","m":"TD-MPC","x":4,"lo":300,"hi":440},{"t":"HR","m":"TD-MPC","x":6,"lo":270,"hi":460},{"t":"HR","m":"TD-MPC","x":8,"lo":260,"hi":470},{"t":"HR","m":"TD-MPC","x":10,"lo":260,"hi":470},{"t":"HR","m":"TD-MPC","x":12,"lo":250,"hi":460},{"t":"HR","m":"TD-MPC","x":14,"lo":260,"hi":460},
{"t":"HR","m":"TD-MPC2","x":0,"lo":0,"hi":0},{"t":"HR","m":"TD-MPC2","x":2,"lo":250,"hi":350},{"t":"HR","m":"TD-MPC2","x":4,"lo":410,"hi":500},{"t":"HR","m":"TD-MPC2","x":6,"lo":480,"hi":580},{"t":"HR","m":"TD-MPC2","x":8,"lo":520,"hi":610},{"t":"HR","m":"TD-MPC2","x":10,"lo":540,"hi":630},{"t":"HR","m":"TD-MPC2","x":12,"lo":560,"hi":650},{"t":"HR","m":"TD-MPC2","x":14,"lo":550,"hi":660},
{"t":"HS","m":"TD-MPC2","x":4,"lo":880,"hi":940},{"t":"HS","m":"TD-MPC2","x":14,"lo":850,"hi":930},
{"t":"HW","m":"SAC","x":2,"lo":0,"hi":0},{"t":"HW","m":"SAC","x":2.5,"lo":0,"hi":250},{"t":"HW","m":"SAC","x":3,"lo":0,"hi":450},{"t":"HW","m":"SAC","x":3.5,"lo":0,"hi":600},{"t":"HW","m":"SAC","x":4,"lo":0,"hi":660},{"t":"HW","m":"SAC","x":6,"lo":0,"hi":700},{"t":"HW","m":"SAC","x":8,"lo":30,"hi":760},{"t":"HW","m":"SAC","x":10,"lo":60,"hi":800},{"t":"HW","m":"SAC","x":12,"lo":80,"hi":820},{"t":"HW","m":"SAC","x":14,"lo":120,"hi":850}
]
},
"concat": [
{"title": "Dog Run", "width": 169, "height": 128,
 "encoding": {"x": {"field": "x", "type": "quantitative", "title": null, "scale": {"domain": [0, 14], "nice": false}, "axis": {"values": [0, 4, 8, 12], "labels": false}},
  "y": {"field": "y", "type": "quantitative", "title": null, "scale": {"domain": [-12, 1022], "nice": false, "zero": false}, "axis": {"values": [0, 500, 1000], "format": "d"}}},
 "layer": [
  {"data": {"name": "B"}, "transform": [{"filter": "datum.t==='DR' && datum.m==='TD-MPC'"}], "mark": {"type": "area", "color": "#1f77b4"}, "encoding": {"y": {"field": "lo", "type": "quantitative"}, "y2": {"field": "hi"}}},
  {"data": {"name": "B"}, "transform": [{"filter": "datum.t==='DR' && datum.m==='TD-MPC2'"}], "mark": {"type": "area", "color": "#d62728"}, "encoding": {"y": {"field": "lo", "type": "quantitative"}, "y2": {"field": "hi"}}},
  {"data": {"name": "L"}, "transform": [{"filter": "datum.t==='DR' && datum.m!=='TD-MPC2'"}], "mark": {"type": "line", "strokeWidth": 2.4},
   "encoding": {"color": {"field": "m", "type": "nominal", "scale": {"domain": ["SAC", "DreamerV3", "TD-MPC", "TD-MPC2"], "range": ["#a9a9a9", "#9467bd", "#1f77b4", "#d62728"]},
     "legend": {"orient": "none", "legendX": 160, "legendY": 340, "direction": "horizontal", "title": null, "symbolType": "stroke", "symbolSize": 900, "symbolStrokeWidth": 3, "labelFontSize": 14.4, "labelColor": "#222", "labelOffset": 11, "columnPadding": 29, "labelFont": "DejaVu Sans"}}}},
  {"data": {"name": "L"}, "transform": [{"filter": "datum.t==='DR' && datum.m==='TD-MPC2'"}], "mark": {"type": "line", "strokeWidth": 3.4}, "encoding": {"color": {"field": "m", "type": "nominal"}}}
 ]},
{"title": "Dog Stand", "width": 169, "height": 128,
 "encoding": {"x": {"field": "x", "type": "quantitative", "title": null, "scale": {"domain": [0, 14], "nice": false}, "axis": {"values": [0, 4, 8, 12], "labels": false}},
  "y": {"field": "y", "type": "quantitative", "title": null, "scale": {"domain": [-12, 1022], "nice": false, "zero": false}, "axis": {"values": [0, 500, 1000], "labels": false}}},
 "layer": [
  {"data": {"name": "B"}, "transform": [{"filter": "datum.t==='DS' && datum.m==='SAC'"}], "mark": {"type": "area", "color": "#a9a9a9"}, "encoding": {"y": {"field": "lo", "type": "quantitative"}, "y2": {"field": "hi"}}},
  {"data": {"name": "B"}, "transform": [{"filter": "datum.t==='DS' && datum.m==='TD-MPC'"}], "mark": {"type": "area", "color": "#1f77b4"}, "encoding": {"y": {"field": "lo", "type": "quantitative"}, "y2": {"field": "hi"}}},
  {"data": {"name": "L"}, "transform": [{"filter": "datum.t==='DS' && datum.m!=='TD-MPC2'"}], "mark": {"type": "line", "strokeWidth": 2.4}, "encoding": {"color": {"field": "m", "type": "nominal"}}},
  {"data": {"name": "L"}, "transform": [{"filter": "datum.t==='DS' && datum.m==='TD-MPC2'"}], "mark": {"type": "line", "strokeWidth": 3.4}, "encoding": {"color": {"field": "m", "type": "nominal"}}}
 ]},
{"title": "Dog Trot", "width": 169, "height": 128,
 "encoding": {"x": {"field": "x", "type": "quantitative", "title": null, "scale": {"domain": [0, 14], "nice": false}, "axis": {"values": [0, 4, 8, 12], "labels": false}},
  "y": {"field": "y", "type": "quantitative", "title": null, "scale": {"domain": [-12, 1022], "nice": false, "zero": false}, "axis": {"values": [0, 500, 1000], "labels": false}}},
 "layer": [
  {"data": {"name": "B"}, "transform": [{"filter": "datum.t==='DT' && datum.m==='SAC'"}], "mark": {"type": "area", "color": "#a9a9a9"}, "encoding": {"y": {"field": "lo", "type": "quantitative"}, "y2": {"field": "hi"}}},
  {"data": {"name": "B"}, "transform": [{"filter": "datum.t==='DT' && datum.m==='TD-MPC'"}], "mark": {"type": "area", "color": "#1f77b4"}, "encoding": {"y": {"field": "lo", "type": "quantitative"}, "y2": {"field": "hi"}}},
  {"data": {"name": "L"}, "transform": [{"filter": "datum.t==='DT' && datum.m!=='TD-MPC2'"}], "mark": {"type": "line", "strokeWidth": 2.4}, "encoding": {"color": {"field": "m", "type": "nominal"}}},
  {"data": {"name": "L"}, "transform": [{"filter": "datum.t==='DT' && datum.m==='TD-MPC2'"}], "mark": {"type": "line", "strokeWidth": 3.4}, "encoding": {"color": {"field": "m", "type": "nominal"}}}
 ]},
{"title": "Dog Walk", "width": 169, "height": 128,
 "encoding": {"x": {"field": "x", "type": "quantitative", "title": null, "scale": {"domain": [0, 14], "nice": false}, "axis": {"values": [0, 4, 8, 12], "labels": false}},
  "y": {"field": "y", "type": "quantitative", "title": null, "scale": {"domain": [-12, 1022], "nice": false, "zero": false}, "axis": {"values": [0, 500, 1000], "labels": false}}},
 "layer": [
  {"data": {"name": "B"}, "transform": [{"filter": "datum.t==='DW' && datum.m==='SAC'"}], "mark": {"type": "area", "color": "#a9a9a9"}, "encoding": {"y": {"field": "lo", "type": "quantitative"}, "y2": {"field": "hi"}}},
  {"data": {"name": "B"}, "transform": [{"filter": "datum.t==='DW' && datum.m==='TD-MPC'"}], "mark": {"type": "area", "color": "#1f77b4"}, "encoding": {"y": {"field": "lo", "type": "quantitative"}, "y2": {"field": "hi"}}},
  {"data": {"name": "B"}, "transform": [{"filter": "datum.t==='DW' && datum.m==='TD-MPC2'"}], "mark": {"type": "area", "color": "#d62728"}, "encoding": {"y": {"field": "lo", "type": "quantitative"}, "y2": {"field": "hi"}}},
  {"data": {"name": "L"}, "transform": [{"filter": "datum.t==='DW' && datum.m!=='TD-MPC2'"}], "mark": {"type": "line", "strokeWidth": 2.4}, "encoding": {"color": {"field": "m", "type": "nominal"}}},
  {"data": {"name": "L"}, "transform": [{"filter": "datum.t==='DW' && datum.m==='TD-MPC2'"}], "mark": {"type": "line", "strokeWidth": 3.4}, "encoding": {"color": {"field": "m", "type": "nominal"}}}
 ]},
{"title": "Humanoid Run", "width": 169, "height": 128,
 "encoding": {"x": {"field": "x", "type": "quantitative", "title": null, "scale": {"domain": [0, 14], "nice": false}, "axis": {"values": [0, 4, 8, 12], "labels": false}},
  "y": {"field": "y", "type": "quantitative", "title": null, "scale": {"domain": [-12, 1022], "nice": false, "zero": false}, "axis": {"values": [0, 500, 1000], "labels": false}}},
 "layer": [
  {"data": {"name": "B"}, "transform": [{"filter": "datum.t==='HR' && datum.m==='TD-MPC'"}], "mark": {"type": "area", "color": "#1f77b4"}, "encoding": {"y": {"field": "lo", "type": "quantitative"}, "y2": {"field": "hi"}}},
  {"data": {"name": "B"}, "transform": [{"filter": "datum.t==='HR' && datum.m==='TD-MPC2'"}], "mark": {"type": "area", "color": "#d62728"}, "encoding": {"y": {"field": "lo", "type": "quantitative"}, "y2": {"field": "hi"}}},
  {"data": {"name": "L"}, "transform": [{"filter": "datum.t==='HR' && datum.m!=='TD-MPC2'"}], "mark": {"type": "line", "strokeWidth": 2.4}, "encoding": {"color": {"field": "m", "type": "nominal"}}},
  {"data": {"name": "L"}, "transform": [{"filter": "datum.t==='HR' && datum.m==='TD-MPC2'"}], "mark": {"type": "line", "strokeWidth": 3.4}, "encoding": {"color": {"field": "m", "type": "nominal"}}}
 ]},
{"title": "Humanoid Stand", "width": 169, "height": 126,
 "encoding": {"x": {"field": "x", "type": "quantitative", "title": null, "scale": {"domain": [0, 14], "nice": false}, "axis": {"values": [0, 4, 8, 12], "labelExpr": "datum.value === 0 ? '0' : datum.value + 'M'"}},
  "y": {"field": "y", "type": "quantitative", "title": null, "scale": {"domain": [-12, 1022], "nice": false, "zero": false}, "axis": {"values": [0, 500, 1000], "format": "d"}}},
 "layer": [
  {"data": {"name": "B"}, "transform": [{"filter": "datum.t==='HS' && datum.m==='TD-MPC2'"}], "mark": {"type": "area", "color": "#d62728"}, "encoding": {"y": {"field": "lo", "type": "quantitative"}, "y2": {"field": "hi"}}},
  {"data": {"name": "L"}, "transform": [{"filter": "datum.t==='HS' && datum.m!=='TD-MPC2'"}], "mark": {"type": "line", "strokeWidth": 2.4}, "encoding": {"color": {"field": "m", "type": "nominal"}}},
  {"data": {"name": "L"}, "transform": [{"filter": "datum.t==='HS' && datum.m==='TD-MPC2'"}], "mark": {"type": "line", "strokeWidth": 3.4}, "encoding": {"color": {"field": "m", "type": "nominal"}}}
 ]},
{"title": "Humanoid Walk", "width": 169, "height": 126,
 "encoding": {"x": {"field": "x", "type": "quantitative", "title": null, "scale": {"domain": [0, 14], "nice": false}, "axis": {"values": [0, 4, 8, 12], "labelExpr": "datum.value === 0 ? '0' : datum.value + 'M'"}},
  "y": {"field": "y", "type": "quantitative", "title": null, "scale": {"domain": [-12, 1022], "nice": false, "zero": false}, "axis": {"values": [0, 500, 1000], "labels": false}}},
 "layer": [
  {"data": {"name": "B"}, "transform": [{"filter": "datum.t==='HW' && datum.m==='SAC'"}], "mark": {"type": "area", "color": "#a9a9a9", "opacity": 0.17}, "encoding": {"y": {"field": "lo", "type": "quantitative"}, "y2": {"field": "hi"}}},
  {"data": {"name": "L"}, "transform": [{"filter": "datum.t==='HW' && datum.m!=='TD-MPC2'"}], "mark": {"type": "line", "strokeWidth": 2.4}, "encoding": {"color": {"field": "m", "type": "nominal"}}},
  {"data": {"name": "L"}, "transform": [{"filter": "datum.t==='HW' && datum.m==='TD-MPC2'"}], "mark": {"type": "line", "strokeWidth": 3.4}, "encoding": {"color": {"field": "m", "type": "nominal"}}}
 ]}
]
}
